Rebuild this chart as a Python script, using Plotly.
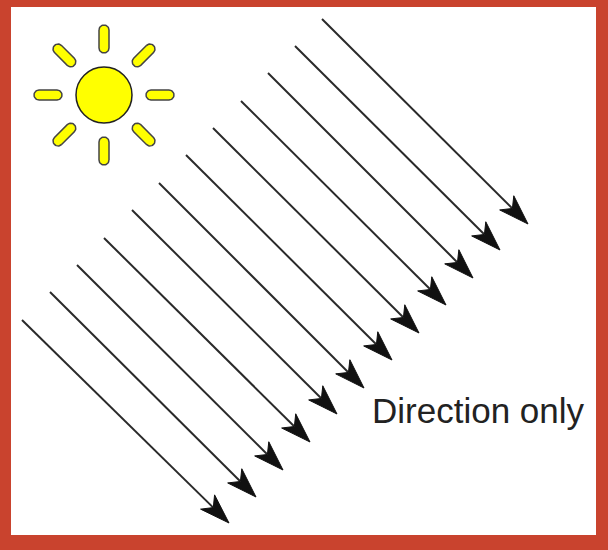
import numpy as np
import plotly.graph_objects as go

# parallel sun rays, start and tip points (pixels, y down)
arrow_x0 = [22, 50, 77, 104, 132, 159, 186, 213, 241, 268, 295, 322]
arrow_y0 = [320, 292, 265, 238, 210, 183, 155, 128, 101, 73, 46, 19]
arrow_x1 = [229, 256, 283, 310, 337, 364, 392, 419, 446, 473, 500, 528]
arrow_y1 = [523, 497, 470, 442, 414, 388, 360, 333, 305, 278, 250, 224]

# the sun
sun_x = 104
sun_y = 95
sun_r = 28
ray_angles = [0, 45, 90, 135, 180, 225, 270, 315]
ray_inner = 42
ray_outer = 70

label = "Direction only"

W, H = 608, 550
border = "#c9432e"

fig = go.Figure()

# shafts + heads
head_len = 30
head_half = 10
notch = 22
for x0, y0, x1, y1 in zip(arrow_x0, arrow_y0, arrow_x1, arrow_y1):
    d = np.array([x1 - x0, y1 - y0], dtype=float)
    d /= np.linalg.norm(d)
    p = np.array([-d[1], d[0]])
    tip = np.array([x1, y1], dtype=float)
    nb = tip - d * notch
    fig.add_trace(go.Scatter(x=[x0, nb[0]], y=[y0, nb[1]], mode="lines",
                             line=dict(color="#2a2a2a", width=2), hoverinfo="skip"))
    b1 = tip - d * head_len + p * head_half
    b2 = tip - d * head_len - p * head_half
    hx = [tip[0], b1[0], nb[0], b2[0], tip[0]]
    hy = [tip[1], b1[1], nb[1], b2[1], tip[1]]
    fig.add_trace(go.Scatter(x=hx, y=hy, mode="lines", fill="toself",
                             fillcolor="#111111", line=dict(color="#111111", width=1),
                             hoverinfo="skip"))

# sun rays as capsules
cap_r = 5
for a in ray_angles:
    t = np.radians(a)
    d = np.array([np.cos(t), np.sin(t)])
    c1 = np.array([sun_x, sun_y]) + d * (ray_inner + cap_r)
    c2 = np.array([sun_x, sun_y]) + d * (ray_outer - cap_r)
    th1 = np.linspace(t - np.pi / 2, t + np.pi / 2, 20)
    th2 = np.linspace(t + np.pi / 2, t + 3 * np.pi / 2, 20)
    xs = np.concatenate([c2[0] + cap_r * np.cos(th1), c1[0] + cap_r * np.cos(th2)])
    ys = np.concatenate([c2[1] + cap_r * np.sin(th1), c1[1] + cap_r * np.sin(th2)])
    xs = np.append(xs, xs[0])
    ys = np.append(ys, ys[0])
    fig.add_trace(go.Scatter(x=xs, y=ys, mode="lines", fill="toself",
                             fillcolor="#ffff00", line=dict(color="#444444", width=1.5),
                             hoverinfo="skip"))

fig.add_shape(type="circle", xref="x", yref="y",
              x0=sun_x - sun_r, x1=sun_x + sun_r, y0=sun_y - sun_r, y1=sun_y + sun_r,
              fillcolor="#ffff00", line=dict(color="#222222", width=1.5), layer="above")

# white panel inside the red frame
fig.add_shape(type="rect", xref="x", yref="y", x0=11, x1=596, y0=7, y1=535,
              fillcolor="white", line=dict(width=0), layer="below")

fig.add_annotation(x=370, y=410, xref="x", yref="y", text=label, showarrow=False,
                   xanchor="left", yanchor="middle",
                   font=dict(family="Liberation Sans, Arial", size=35, color="#222222"))

fig.update_layout(
    width=W, height=H,
    margin=dict(l=0, r=0, t=0, b=0),
    paper_bgcolor=border,
    plot_bgcolor=border,
    showlegend=False,
    xaxis=dict(range=[0, W], visible=False, fixedrange=True),
    yaxis=dict(range=[H, 0], visible=False, fixedrange=True),
)

# drop the default 8px page margin so the frame sits flush with the window
fig.write_html("out.html", config={"displayModeBar": False},
               post_script="document.body.style.margin='0';")
